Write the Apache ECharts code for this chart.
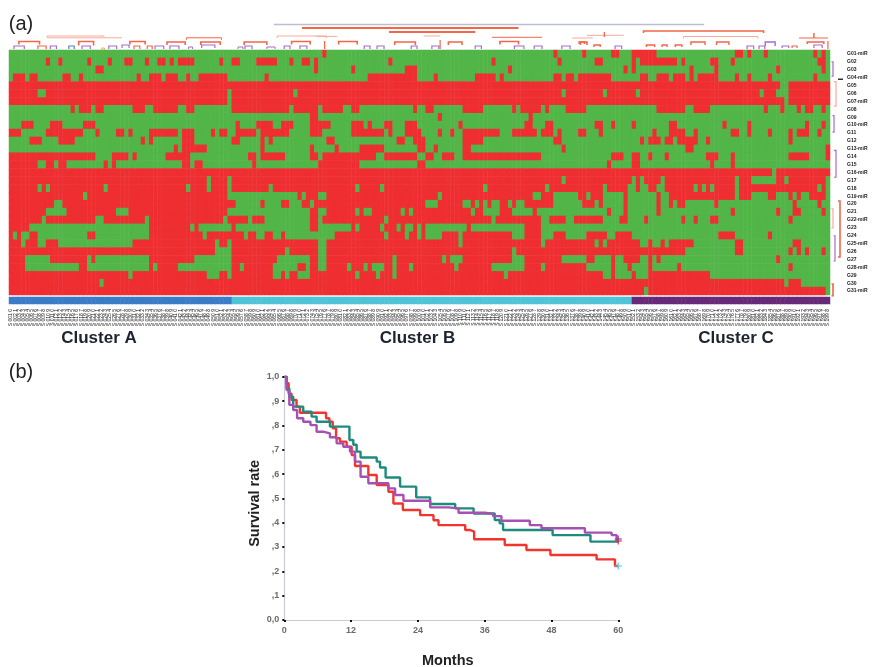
<!DOCTYPE html>
<html><head><meta charset="utf-8">
<style>html,body{margin:0;padding:0;background:#fff}#c{width:877px;height:667px}</style>
<script src="https://cdn.jsdelivr.net/npm/echarts@6/dist/echarts.min.js"></script>
</head><body><div id="c"></div>
<script>
// ---- heat map: 0 = green, 1 = red. Each row: base value, then runs [first,last] of the other value
const columnCount = 199;
const rowBase = [0,0,0,0,1,1,1,0,0,0,0,0,0,0,0,1,1,1,1,1,1,1,1,1,1,1,1,1,1,1,1];
const row00 = [[76,76],[132,132],[139,139],[146,147],[151,156],[176,177],[179,179],[183,183],[195,195],[197,197]];
const row01 = [[9,9],[12,12],[19,19],[24,24],[28,29],[33,33],[36,37],[39,39],[41,44],[51,51],[54,55],[60,64],[68,68],[71,72],[74,74],[92,92],[117,117],[133,133],[142,143],[151,151],[153,161],[163,163],[170,171],[175,175],[196,197]];
const row02 = [[21,22],[74,74],[83,83],[96,98],[121,121],[149,149],[151,151],[165,165],[171,171],[186,186],[197,197]];
const row03 = [[1,3],[5,6],[13,14],[17,17],[31,31],[34,36],[38,40],[43,43],[46,52],[62,62],[87,98],[103,103],[113,117],[119,119],[132,133],[135,136],[138,145],[153,154],[157,159],[161,163],[165,165],[167,171],[176,176],[179,179],[184,184],[195,195]];
const row04 = [[187,188]];
const row05 = [[7,8],[53,53],[69,69],[134,134],[144,144],[152,152],[182,182],[186,188]];
const row06 = [[53,53],[188,188]];
const row07 = [[15,15],[17,19],[21,22],[30,32],[35,40],[43,44],[54,67],[69,74],[76,80],[83,84],[98,98],[101,102],[110,114],[122,122],[124,128],[130,130],[135,139],[157,163],[166,169],[183,183],[187,187],[191,191],[193,194],[197,197]];
const row08 = [[73,74],[104,104],[126,126]];
const row09 = [[3,5],[10,12],[18,20],[55,55],[60,63],[66,68],[73,77],[83,85],[87,87],[91,92],[96,98],[109,109],[125,126],[130,131],[142,143],[146,146],[151,151],[160,161],[173,173],[179,179],[193,193],[197,197]];
const row10 = [[0,2],[9,17],[21,21],[26,27],[29,29],[34,40],[42,44],[49,49],[51,52],[55,59],[61,67],[73,75],[83,90],[92,92],[96,99],[104,104],[107,107],[110,118],[122,127],[129,131],[133,133],[138,139],[143,143],[156,156],[160,163],[166,166],[175,176],[179,179],[184,184],[189,189],[191,193],[196,196]];
const row11 = [[5,7],[12,15],[32,32],[34,34],[42,44],[54,55],[61,61],[63,63],[77,78],[94,95],[98,100],[110,114],[132,133],[153,153],[155,157],[159,160],[162,166],[169,169],[189,189]];
const row12 = [[40,40],[42,47],[61,61],[73,73],[79,79],[85,90],[99,100],[103,103],[110,111],[134,134],[164,165],[198,198]];
const row13 = [[0,20],[25,28],[30,30],[38,41],[42,43],[58,59],[61,66],[73,74],[76,88],[91,98],[101,102],[105,107],[110,128],[146,148],[151,152],[155,155],[159,159],[169,171],[175,175],[189,193],[198,198]];
const row14 = [[0,6],[9,10],[12,13],[23,23],[25,25],[42,43],[45,46],[59,59],[75,84],[99,100],[145,145],[151,152],[170,170],[175,175]];
const row15 = [[185,185]];
const row16 = [[48,48],[53,53],[134,134],[151,151],[153,153],[158,158],[176,176],[180,185],[188,188],[198,198]];
const row17 = [[7,7],[9,9],[23,23],[43,43],[48,48],[53,53],[63,63],[84,84],[90,90],[115,115],[130,130],[144,144],[150,151],[153,154],[157,158],[166,166],[168,168],[170,170],[176,176],[196,196],[198,198]];
const row18 = [[18,18],[53,60],[61,66],[67,69],[71,71],[75,76],[104,104],[127,128],[132,137],[140,140],[144,148],[150,156],[158,159],[176,176],[180,183],[186,188],[190,190],[192,193],[198,198]];
const row19 = [[11,12],[55,55],[56,60],[62,65],[68,70],[73,73],[101,103],[110,111],[113,113],[115,115],[117,118],[121,121],[123,124],[132,138],[142,142],[144,148],[150,156],[158,159],[161,161],[164,169],[170,170],[172,174],[175,189],[191,195],[197,198]];
const row20 = [[9,13],[26,28],[53,61],[62,72],[75,76],[84,84],[86,87],[95,95],[97,97],[112,112],[115,118],[122,126],[128,144],[146,148],[150,156],[158,174],[176,185],[187,189],[192,196],[198,198]];
const row21 = [[8,8],[21,22],[33,33],[52,52],[58,58],[62,72],[75,75],[91,91],[117,117],[129,130],[135,136],[144,147],[150,153],[155,162],[164,165],[167,169],[172,188],[190,198]];
const row22 = [[5,12],[13,20],[21,33],[44,44],[46,53],[55,72],[75,82],[84,84],[90,90],[94,94],[96,97],[99,99],[101,110],[112,124],[129,141],[142,198]];
const row23 = [[1,1],[3,4],[7,12],[13,15],[16,18],[21,33],[47,47],[57,57],[60,61],[64,65],[67,78],[91,91],[96,96],[99,99],[101,104],[109,109],[122,124],[129,131],[135,139],[145,146],[151,171],[176,183],[185,198]];
const row24 = [[3,3],[7,8],[12,20],[21,29],[50,50],[53,53],[75,76],[109,109],[129,129],[142,142],[144,144],[153,154],[156,157],[159,159],[166,175],[178,189],[192,198]];
const row25 = [[50,52],[53,53],[67,67],[75,76],[122,122],[164,175],[178,181],[182,188],[190,190],[192,192],[194,196],[198,198]];
const row26 = [[4,5],[6,9],[19,19],[21,33],[45,53],[65,72],[75,76],[93,93],[105,105],[107,109],[122,124],[134,139],[142,145],[147,148],[153,154],[156,156],[158,185],[187,198]];
const row27 = [[4,6],[7,16],[19,33],[35,35],[41,53],[56,56],[64,69],[72,72],[75,76],[82,82],[86,86],[88,90],[93,93],[97,97],[108,108],[117,124],[129,129],[140,145],[147,149],[151,154],[156,161],[163,169],[170,188],[190,198]];
const row28 = [[29,29],[48,50],[53,53],[64,65],[67,67],[70,72],[84,84],[89,89],[93,93],[120,120],[144,145],[147,150],[152,154],[170,198]];
const row29 = [[22,22],[188,188],[192,198]];
const row30 = [[154,154],[198,198]];
const heatRuns = [row00,row01,row02,row03,row04,row05,row06,row07,row08,row09,row10,row11,row12,row13,row14,row15,row16,row17,row18,row19,row20,row21,row22,row23,row24,row25,row26,row27,row28,row29,row30];

// ---- cluster strip: first column of each cluster
const clusterNames = ['Cluster A','Cluster B','Cluster C'];
const clusterStarts = [0,54,151];

// ---- Kaplan-Meier steps [month, survival]
const kmRed = [[0,1],[0.42,.973],[0.78,.93],[1.3,.904],[2.2,.877],[2.8,.852],[7,.852],[7.5,.829],[8.1,.815],[8.7,.788],[9.3,.747],[10,.733],[11.2,.712],[12.1,.678],[12.7,.633],[15.1,.596],[16.6,.555],[18.7,.527],[19.6,.479],[21.3,.452],[24.4,.431],[26.8,.41],[27.7,.39],[32.5,.37],[33.4,.363],[34.1,.332],[39.6,.308],[43.5,.288],[47.8,.267],[56.1,.249],[59.4,.222],[60,.222]];
const kmTeal = [[0,1],[0.42,.952],[0.9,.918],[1.6,.877],[3.4,.856],[4.9,.836],[5.8,.815],[8.2,.795],[11.7,.74],[12.4,.72],[13,.692],[13.7,.668],[16.6,.651],[17.2,.627],[18.2,.586],[20.8,.548],[23.7,.504],[26.2,.477],[30.7,.459],[34,.438],[37.8,.411],[38.7,.397],[39.3,.37],[48.2,.349],[55,.322],[60,.322]];
const kmPurple = [[0,1],[0.42,.945],[0.9,.884],[1.6,.863],[2.3,.829],[3.4,.815],[4.7,.801],[5.8,.774],[7,.767],[8.2,.751],[9.4,.726],[10.6,.712],[11.8,.692],[12.7,.651],[13.7,.589],[15.1,.562],[18.7,.541],[19.9,.514],[21.4,.49],[26.2,.463],[29.5,.459],[31.3,.441],[36,.436],[37.5,.427],[39,.408],[44.1,.39],[46.2,.377],[54,.359],[58.8,.349],[59.7,.329],[60,.329]];
const kmCensorMarks = [[60,.222,'#55cfd8'],[60,.325,'#ef2f2c'],[60,.333,'#8e3fa6']];
const survivalTicks = ['0,0',',1',',2',',3',',4',',5',',6',',7',',8',',9','1,0'];
const monthTicks = [0,12,24,36,48,60];

// ---- dendrograms: [from, to, height, leg, colour index, line width]
const treeColors = ['#f2664a','#a86cc7','#f7aa9c','#b9bfd0','#5c7fc4','#333333','#e7b23c'];
const sampleTree = [
 [63.7,168,25.5,0,3,1.4],[70.5,123,22,0,0,2],[91.6,112.5,18,0,0,2],
 [8.7,22.5,14,1,2,1],[8.7,26.9,12.2,0,2,1],[64.5,76.5,14,2,2,1],[42.5,51,12.2,2,0,1],[74,79,13.6,0,2,1],
 [100,104,14,0,2,1],[116.6,128.7,12.7,0,0,1],[136,141,12,0,2,1],[153.3,182.4,19,2,0,1.6],[163,181,13.5,2,2,1],
 [139.6,148.5,14.7,0,2,1],[143.8,143.8,18,5,0,1],[191,198,12,0,0,1],[193,197,8,2,0,1.6],[194.6,194.6,17,5,0,1],
 [1.9,6.9,8.5,3,0,1.6],[16.4,20,8.5,4,0,1.6],[28.8,32.5,8.5,3,0,1.6],[37.8,42.2,8,3,0,1.6],[46,50.7,8,3,0,1.6],
 [56.5,62,8,3,0,1.6],[68,72.5,8.5,3,0,1.6],[76,76,9,8,0,1.2],[79.4,83.9,8.5,3,0,1.6],[93,98,8,3,0,1.6],[106,109.3,8,3,0,1.6],
 [104,104,10,9,0,1.2],[118.5,123,8.5,3,0,1.6],[137.7,139,8,2,0,1.6],[138,139.6,8,3,0,1.6],[141.3,142.8,5,2,0,1.4],
 [154,156,5,2,0,1.4],[157.8,159,5,2,0,1.4],[161,162.6,5,2,0,1.4],[164.8,168.2,8,3,0,1.4],[171,174,8,3,0,1.4],[182.8,185.2,8,4,1,1.4],
 [186.9,188.5,4,2,1,1.2],[189.3,190.5,4,2,0,1.2],[198,198,9,8,0,1.2],
 [0.7,3.2,4,3,1,1.2],[6.5,8.5,4,3,0,1.2],[9.5,11,4,3,1,1.2],[14,15.3,4,3,4,1.2],[17.2,19.2,4,3,1,1.2],[23.7,25.6,4,3,1,1.2],
 [26.9,28.6,5,3,1,1.2],[29.8,31.2,4,3,0,1.2],[33,34.2,4,3,0,1.2],[34.9,37,4,3,1,1.2],[38.5,40.7,4,3,1,1.2],[43,44,3,2,1,1],
 [46.2,49.4,5,3,1,1.2],[55,56.2,3,2,1,1],[56.7,58.4,4,3,1,1.2],[62,64,3,2,1,1],[66.2,67.6,4,3,1,1.2],[70,71.7,4,3,1,1.2],
 [85.6,87,4,3,1,1.2],[88.7,90.4,4,3,1,1.2],[97,98.4,4,3,1,1.2],[102,103.7,4,3,1,1.2],[112.5,114,4,3,1,1.2],[122,124.3,4,3,1,1.2],
 [126.8,128.7,4,3,1,1.2],[133.5,135.5,4,3,1,1.2],[146.4,148,4,3,1,1.2],[178.4,180,4,3,1,1.2],[181.3,182.7,4,3,1,1.2],[194.6,196.6,5,3,1,1.2],
 [22,22.6,2,2,6,1]
];
const rowTree = [
 [1,2.8,3,1.5,1,1.2],[3.5,6.6,6,2,2,1.2],[7.8,9.9,4,1.5,1,1.2],[12.2,15.6,6,2,1,1.2],
 [18.6,25.7,10,2,0,1.6],[23,26.2,5,1.5,1,1.2],[19.6,22,3,1.5,2,1.2],[29.1,30.6,3,1.5,0,1.6],[3.2,3.2,13,5,5,1.4]
];

// ---- row / sample identifiers (the reference's are too blurred to read)
const rowLabels = Array.from({length:rowBase.length},(_,i)=>'G'+String(i+1).padStart(2,'0')+(i%3===0?'-miR':''));
const sampleLabels = Array.from({length:columnCount},(_,i)=>'S '+String(i+1).padStart(3,'0')+' '+(i%10));

// ---- build
const columns = Array.from({length:columnCount},(_,i)=>i);
const heatData = [];
heatRuns.forEach((runs,r)=>{
  const vals = new Array(columnCount).fill(rowBase[r]);
  runs.forEach(([a,b])=>{for(let c=a;c<=b;c++) vals[c]=1-rowBase[r];});
  vals.forEach((v,c)=>heatData.push([c,r,v]));
});
const stripData = columns.map(c=>[c,0,c>=clusterStarts[2]?2:c>=clusterStarts[1]?1:0]);

function sampleBracket(p,api){
  const x0=api.value(0),x1=api.value(1),h=api.value(2),l=api.value(3);
  return {type:'polyline',shape:{points:[api.coord([x0,h-l]),api.coord([x0,h]),api.coord([x1,h]),api.coord([x1,h-l])]},
    style:{stroke:treeColors[api.value(4)],lineWidth:api.value(5),fill:null}};
}
function rowBracket(p,api){
  const d=api.value(0),r0=api.value(1),r1=api.value(2),l=api.value(3);
  return {type:'polyline',shape:{points:[api.coord([d-l,r0]),api.coord([d,r0]),api.coord([d,r1]),api.coord([d-l,r1])]},
    style:{stroke:treeColors[api.value(4)],lineWidth:api.value(5),fill:null}};
}
const FONT='"Liberation Sans",Arial,sans-serif';
const hidden={show:false};
function panelText(text,x,y,size,weight,fill){
  return {type:'text',x,y,style:{text,fontFamily:FONT,fontSize:size,fontWeight:weight,fill,textAlign:'center',textVerticalAlign:'middle'}};
}
const kmLine=(name,data,color)=>({name,type:'line',xAxisIndex:4,yAxisIndex:4,data,step:'end',symbol:'none',z:3,
  lineStyle:{color,width:2.4},animation:false});

const chart=echarts.init(document.getElementById('c'),null,{renderer:'canvas'});
const fixedGrid={outerBoundsMode:'none',containLabel:false};
chart.setOption({
  animation:false,backgroundColor:'#fff',
  textStyle:{fontFamily:FONT},
  grid:[
    {...fixedGrid,left:9,width:821,top:50,height:245},
    {...fixedGrid,left:9,width:821,top:297,height:7},
    {...fixedGrid,left:9,width:821,top:20,height:30},
    {...fixedGrid,left:830,width:15,top:50,height:245},
    {...fixedGrid,left:284.3,right:258.7,top:376.7,bottom:47}
  ],
  xAxis:[
    {type:'category',gridIndex:0,data:columns,show:false},
    {type:'category',gridIndex:1,data:sampleLabels,axisLine:hidden,axisTick:hidden,
      axisLabel:{interval:0,rotate:90,fontSize:5,color:'#111',margin:5,hideOverlap:false,fontFamily:FONT}},
    {type:'value',gridIndex:2,min:-0.5,max:198.5,show:false},
    {type:'value',gridIndex:3,min:0,max:15,show:false},
    {type:'value',gridIndex:4,min:0,max:60,interval:12,splitLine:hidden,
      name:'Months',nameLocation:'middle',nameGap:33,nameTextStyle:{fontSize:14.5,fontWeight:'bold',color:'#222',fontFamily:FONT,padding:[0,7,0,0]},
      axisLine:{lineStyle:{color:'#c6cbd6',width:1.2}},axisTick:{show:true,length:2,inside:false,lineStyle:{color:'#111',width:2}},
      axisLabel:{color:'#6a6a6a',fontSize:9,fontWeight:'bold',margin:6,fontFamily:FONT,formatter:v=>monthTicks.includes(v)?String(v):''}}
  ],
  yAxis:[
    {type:'category',gridIndex:0,data:rowLabels,inverse:true,position:'right',axisLine:hidden,axisTick:hidden,
      axisLabel:{show:true,interval:0,fontSize:5,fontWeight:'bold',color:'#222',margin:17,fontFamily:FONT}},
    {type:'category',gridIndex:1,data:['strip'],show:false},
    {type:'value',gridIndex:2,min:0,max:30,show:false},
    {type:'value',gridIndex:3,min:-0.5,max:30.5,inverse:true,show:false},
    {type:'value',gridIndex:4,min:0,max:1,interval:0.1,splitLine:hidden,
      name:'Survival rate',nameLocation:'middle',nameGap:14,nameRotate:90,nameTextStyle:{fontSize:14.5,fontWeight:'bold',color:'#222',fontFamily:FONT,padding:[0,10,0,0]},
      axisLine:{show:true,lineStyle:{color:'#c6cbd6',width:1.2}},axisTick:{show:true,length:2,lineStyle:{color:'#111',width:2}},
      axisLabel:{color:'#6a6a6a',fontSize:9,fontWeight:'bold',margin:5,fontFamily:FONT,formatter:v=>survivalTicks[Math.round(v*10)]}}
  ],
  visualMap:[
    {type:'piecewise',show:false,seriesIndex:0,dimension:2,pieces:[{value:0,color:'#52b548'},{value:1,color:'#ee2e31'}]},
    {type:'piecewise',show:false,seriesIndex:1,dimension:2,pieces:[{value:0,color:'#3a7cc8'},{value:1,color:'#4ec4d6'},{value:2,color:'#672a78'}]}
  ],
  series:[
    {type:'heatmap',xAxisIndex:0,yAxisIndex:0,data:heatData,progressive:0,itemStyle:{borderWidth:0}},
    {type:'heatmap',xAxisIndex:1,yAxisIndex:1,data:stripData,progressive:0,itemStyle:{borderWidth:0}},
    {type:'custom',xAxisIndex:2,yAxisIndex:2,data:sampleTree,renderItem:sampleBracket,clip:false,silent:true},
    {type:'custom',xAxisIndex:3,yAxisIndex:3,data:rowTree.map(d=>[d[2],d[0],d[1],d[3],d[4],d[5]]),renderItem:rowBracket,clip:false,silent:true},
    kmLine('Cluster B',kmRed,'#f0352f'),
    kmLine('Cluster A',kmTeal,'#1f8a7e'),
    kmLine('Cluster C',kmPurple,'#a650b2'),
    {type:'scatter',xAxisIndex:4,yAxisIndex:4,z:4,symbol:'path://M4 0H6V4H10V6H6V10H4V6H0V4H4Z',symbolSize:7,
      data:kmCensorMarks.map(d=>({value:[d[0],d[1]],itemStyle:{color:d[2]}}))}
  ],
  graphic:[
    panelText('(a)',21,24,20,'normal','#222'),
    panelText('(b)',21,372,20,'normal','#222'),
    panelText(clusterNames[0],99,338,17,'bold','#1c2430'),
    panelText(clusterNames[1],417.5,338,17,'bold','#1c2430'),
    panelText(clusterNames[2],736,338,17,'bold','#1c2430')
  ]
});
</script></body></html>
